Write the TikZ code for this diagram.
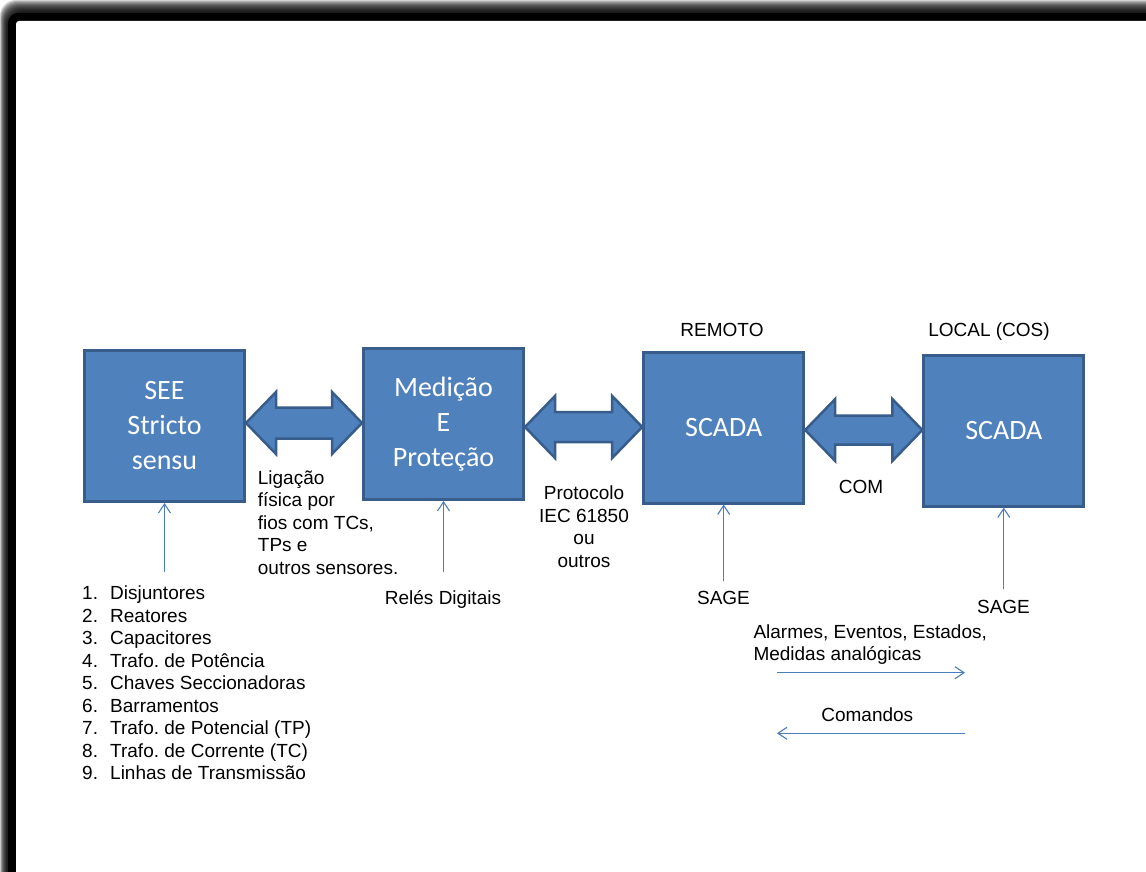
\documentclass[tikz,border=0pt]{standalone}
\usepackage{fontspec}
\setmainfont{Liberation Sans}
\newfontfamily\calib{Carlito}
\usetikzlibrary{arrows.meta,calc}
\definecolor{boxfill}{HTML}{4F81BD}
\definecolor{boxline}{HTML}{385D8A}
\definecolor{thinblue}{HTML}{4A7EBB}
\newcommand\dblarrow[4]{\filldraw[barrow] (#1) -- ++(30,-#3) -- ++(0,{#3-#4}) -- ($(#2)+(-30,-#4)$) -- ++(0,{#4-#3}) -- (#2) -- ++(-30,#3) -- ++(0,{#4-#3}) -- ($(#1)+(30,#4)$) -- ++(0,{#3-#4}) -- cycle;}
\begin{document}
\begin{tikzpicture}[x=1pt,y=-1pt,
 blockbox/.style={draw=boxline, fill=boxfill, line width=3pt, minimum width=160pt, minimum height=151pt, inner sep=0pt, text=white, font=\calib\fontsize{28}{35}\selectfont, align=center},
 barrow/.style={draw=boxline, fill=boxfill, line width=2.5pt, line join=miter},
 thinarrow/.style={draw=thinblue, line width=1.1pt, -{Straight Barb[length=9pt,width=12pt]}},
 lbl/.style={inner sep=0pt, font=\fontsize{19}{22.5}\selectfont, text=black},
]
\useasboundingbox (0,0) rectangle (1146,872);
% shadowed frame
\foreach \i in {0,...,12} \fill[black, opacity=0.16, rounded corners=16pt] ({\i*0.62},\i) rectangle (1200,900);
\fill[black, rounded corners=10pt] (8,13) rectangle (1200,900);
\fill[white, rounded corners=3pt] (16,21) rectangle (1200,900);

% boxes (positions)
\path (164.5,426) coordinate (p1) (443.5,424) coordinate (p2) (723.7,427.5) coordinate (p3) (1003.8,430.5) coordinate (p4);
\path[use as bounding box] (0,0);
% block arrows drawn first
\node[blockbox, draw=none, fill=none, text=white, opacity=0] (g1) at (p1) {};
\node[blockbox, draw=none, fill=none, opacity=0] (g2) at (p2) {};
\node[blockbox, draw=none, fill=none, opacity=0] (g3) at (p3) {};
\node[blockbox, draw=none, fill=none, opacity=0] (g4) at (p4) {};
\coordinate (a1l) at (g1.east |- 0,423);
\coordinate (a1r) at (g2.west |- 0,423);
\coordinate (a2l) at (g2.east |- 0,427);
\coordinate (a2r) at (g3.west |- 0,427);
\coordinate (a3l) at (g3.east |- 0,430);
\coordinate (a3r) at (g4.west |- 0,430);
\dblarrow{a1l}{a1r}{31}{15.5}
\dblarrow{a2l}{a2r}{31}{15}
\dblarrow{a3l}{a3r}{31}{14.5}

\node[blockbox] (b1) at (p1) {SEE\\Stricto\\sensu};
\node[blockbox] (b2) at (p2) {Medição\\E\\Proteção};
\node[blockbox] (b3) at (p3) {SCADA};
\node[blockbox] (b4) at (p4) {SCADA};

% labels
\node[lbl, anchor=base] (remoto) at (722,336.8) {REMOTO};
\node[lbl, anchor=base] (local) at (989,336.8) {LOCAL (COS)};
\node[lbl, anchor=west, align=left] (lig) at (257.7,522.5) {Ligação\\física por\\fios com TCs,\\TPs e\\outros sensores.};
\node[lbl, align=center] (prot) at (584,526.8) {Protocolo\\IEC 61850\\ou\\outros};
\node[lbl, anchor=base] (com) at (861,493.5) {COM};
\node[lbl, anchor=base] (reles) at (443,604.8) {Relés Digitais};
\node[lbl, anchor=base] (sage1) at (723.5,604.5) {SAGE};
\node[lbl, anchor=base] (sage2) at (1003.5,613.5) {SAGE};

% list
\foreach \t [count=\k] in {Disjuntores,Reatores,Capacitores,Trafo.\ de Potência,Chaves Seccionadoras,Barramentos,Trafo.\ de Potencial (TP),Trafo.\ de Corrente (TC),Linhas de Transmissão}{
  \node[lbl, anchor=base west] (n\k) at (82,{592.7+22.5*(\k-1)+6.8}) {\k.};
  \node[lbl, anchor=base west] (l\k) at (110,{592.7+22.5*(\k-1)+6.8}) {\t};
}

% vertical thin arrows
\coordinate (v1) at (b1.south |- 0,572);
\coordinate (v2) at (b2.south |- 0,572);
\coordinate (v3) at (b3.south |- 0,581);
\coordinate (v4) at (b4.south |- 0,589);
\draw[thinarrow] (v1) -- (b1.south);
\draw[thinarrow] (v2) -- (b2.south);
\draw[thinarrow] (v3) -- (b3.south);
\draw[thinarrow] (v4) -- (b4.south);

% legend
\node[lbl, anchor=west, align=left] (alarm) at (753.3,644.5) {Alarmes, Eventos, Estados,\\Medidas analógicas};
\node[lbl, anchor=base] (cmd) at (867.3,721.8) {Comandos};
\coordinate (r1s) at (777,672.7);
\coordinate (r1e) at (965,672.7);
\coordinate (r2s) at (965,733.3);
\coordinate (r2e) at (777,733.3);
\draw[thinarrow] (r1s) -- (r1e);
\draw[thinarrow] (r2s) -- (r2e);
\end{tikzpicture}
\end{document}
